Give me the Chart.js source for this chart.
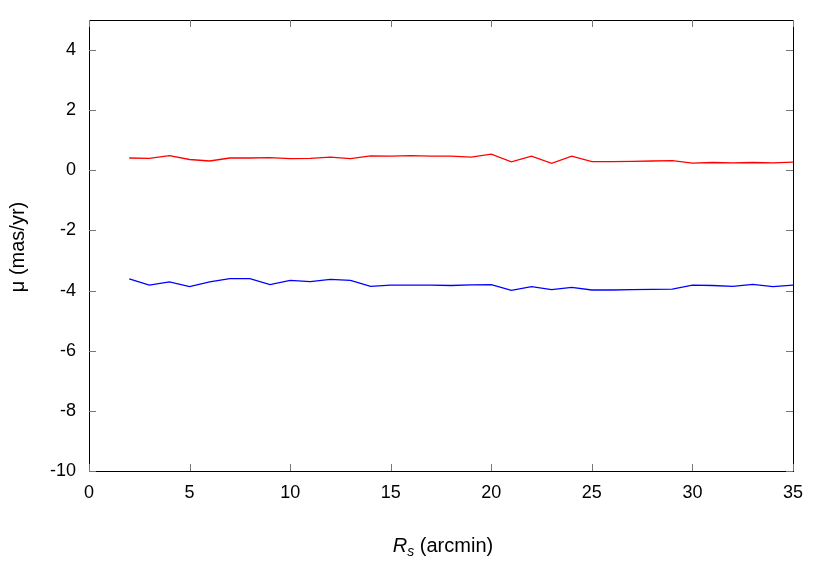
<!DOCTYPE html>
<html>
<head>
<meta charset="utf-8">
<script src="https://cdn.jsdelivr.net/npm/chart.js@4"></script>
<style>
  html, body { margin: 0; padding: 0; background: #fff; }
  #wrap { width: 830px; height: 581px; }
</style>
</head>
<body>
<div id="wrap"><canvas id="grafico" width="830" height="581"></canvas></div>
<script>
// dados
const raios = [2,3,4,5,6,7,8,9,10,11,12,13,14,15,16,17,18,19,20,21,22,23,24,25,26,27,28,29,30,31,32,33,34,35];
const muVermelho = [0.41,0.40,0.49,0.36,0.31,0.41,0.41,0.42,0.39,0.40,0.44,0.39,0.48,0.47,0.49,0.47,0.47,0.44,0.54,0.28,0.47,0.23,0.47,0.29,0.29,0.30,0.31,0.32,0.24,0.26,0.25,0.26,0.25,0.27];
const muAzul = [-3.61,-3.82,-3.71,-3.87,-3.71,-3.60,-3.60,-3.80,-3.66,-3.70,-3.63,-3.66,-3.86,-3.82,-3.82,-3.82,-3.83,-3.81,-3.80,-3.99,-3.87,-3.97,-3.89,-3.98,-3.98,-3.97,-3.96,-3.95,-3.82,-3.83,-3.86,-3.79,-3.87,-3.82];
const ticksX = [0,5,10,15,20,25,30,35];
const ticksY = [-10,-8,-6,-4,-2,0,2,4];

const fonte = "'Liberation Sans', Arial, sans-serif";

// moldura + marcas de escala estilo gnuplot
const moldura = {
  id: 'moldura',
  afterDraw(chart) {
    const ctx = chart.ctx;
    const a = chart.chartArea;
    const sx = chart.scales.x, sy = chart.scales.y;
    ctx.save();
    ctx.strokeStyle = '#000';
    ctx.lineWidth = 1;
    ctx.strokeRect(a.left + 0.5, a.top + 0.5, a.right - a.left, a.bottom - a.top);
    ctx.strokeStyle = '#777';
    ctx.beginPath();
    ticksY.forEach(v => {
      const y = Math.round(sy.getPixelForValue(v)) + 0.5;
      ctx.moveTo(a.left, y); ctx.lineTo(a.left + 7, y);
      ctx.moveTo(a.right, y); ctx.lineTo(a.right - 7, y);
    });
    ticksX.forEach(v => {
      const x = Math.round(sx.getPixelForValue(v)) + 0.5;
      ctx.moveTo(x, a.bottom); ctx.lineTo(x, a.bottom - 7);
      ctx.moveTo(x, a.top); ctx.lineTo(x, a.top + 7);
    });
    ctx.stroke();

    // título eixo x: R_s (arcmin)
    ctx.fillStyle = '#000';
    ctx.textBaseline = 'alphabetic';
    const cx = (a.left + a.right) / 2 + 2;
    const base = 552;
    const pR = 'R', pS = 's', pT = ' (arcmin)';
    ctx.font = 'italic 20px ' + fonte;
    const wR = ctx.measureText(pR).width;
    ctx.font = 'italic 14px ' + fonte;
    const wS = ctx.measureText(pS).width;
    ctx.font = '20px ' + fonte;
    const wT = ctx.measureText(pT).width;
    let x0 = cx - (wR + wS + wT) / 2;
    ctx.textAlign = 'left';
    ctx.font = 'italic 20px ' + fonte;
    ctx.fillText(pR, x0, base);
    ctx.font = 'italic 14px ' + fonte;
    ctx.fillText(pS, x0 + wR, base + 4);
    ctx.font = '20px ' + fonte;
    ctx.fillText(pT, x0 + wR + wS, base);

    // título eixo y
    ctx.translate(24, 247);
    ctx.rotate(-Math.PI / 2);
    ctx.textAlign = 'center';
    ctx.fillText('μ (mas/yr)', 0, 0);
    ctx.restore();
  }
};

const ctx = document.getElementById('grafico').getContext('2d');

const grafico = new Chart(ctx, {
  type: 'line',
  data: {
    datasets: [
      {
        data: raios.map((r, i) => ({ x: r, y: muVermelho[i] })),
        borderColor: '#ff0000',
        borderWidth: 1.3,
        pointRadius: 0,
        tension: 0
      },
      {
        data: raios.map((r, i) => ({ x: r, y: muAzul[i] })),
        borderColor: '#0000ff',
        borderWidth: 1.3,
        pointRadius: 0,
        tension: 0
      }
    ]
  },
  options: {
    responsive: false,
    animation: false,
    layout: { padding: { left: 0, right: 37, top: 20, bottom: 0 } },
    plugins: {
      legend: { display: false },
      tooltip: { enabled: false }
    },
    scales: {
      x: {
        type: 'linear',
        min: 0,
        max: 35,
        afterBuildTicks: ax => { ax.ticks = ticksX.map(v => ({ value: v })); },
        afterFit: ax => { ax.height = 110; },
        grid: { display: false, drawTicks: false },
        border: { display: false },
        ticks: { color: '#000', padding: 11, maxRotation: 0, font: { family: fonte, size: 18 } }
      },
      y: {
        type: 'linear',
        min: -10,
        max: 5,
        afterBuildTicks: ax => { ax.ticks = ticksY.map(v => ({ value: v })); },
        afterFit: ax => { ax.width = 89; ax.paddingTop = 0; ax.paddingBottom = 0; },
        grid: { display: false, drawTicks: false },
        border: { display: false },
        ticks: { color: '#000', padding: 13, font: { family: fonte, size: 18 } }
      }
    }
  },
  plugins: [moldura]
});
</script>
</body>
</html>
